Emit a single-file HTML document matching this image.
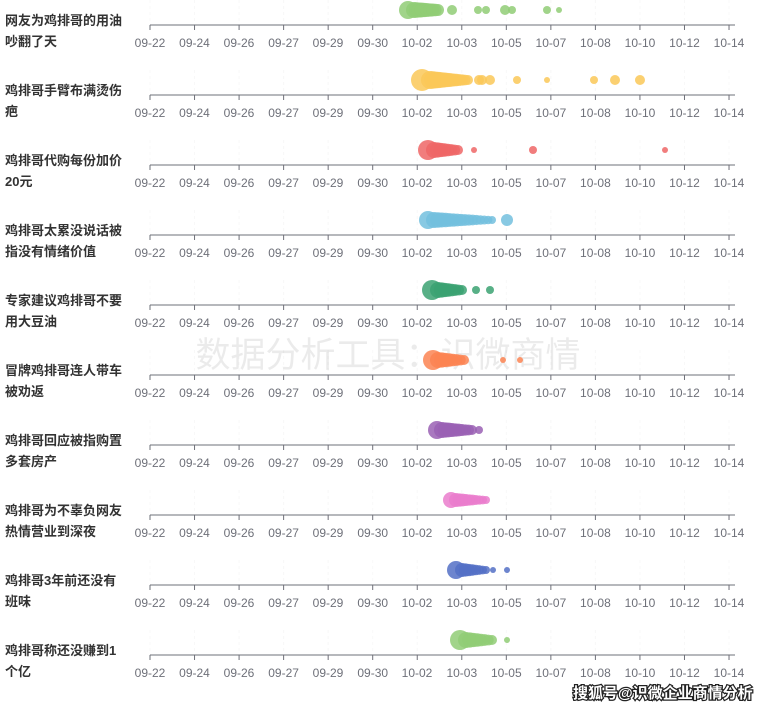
<!DOCTYPE html>
<html><head><meta charset="utf-8"><style>
body{margin:0;background:#fff;width:774px;height:710px;overflow:hidden}
svg text{font-family:"Liberation Sans","Noto Sans CJK SC",sans-serif}
.t{font-size:12px;fill:#6e7079;text-anchor:middle}
.l{font-size:13px;font-weight:bold;fill:#333}
</style></head><body>
<svg width="774" height="710" viewBox="0 0 774 710" xmlns="http://www.w3.org/2000/svg">
<g id="grid"></g>
<text x="388" y="367" font-size="35" fill="#000" fill-opacity="0.08" text-anchor="middle">数据分析工具：识微商情</text>
<g id="bub"></g>
<g class="l">
<text x="5" y="25">网友为鸡排哥的用油</text><text x="5" y="46">吵翻了天</text>
<text x="5" y="95">鸡排哥手臂布满烫伤</text><text x="5" y="116">疤</text>
<text x="5" y="165">鸡排哥代购每份加价</text><text x="5" y="186">20元</text>
<text x="5" y="235">鸡排哥太累没说话被</text><text x="5" y="256">指没有情绪价值</text>
<text x="5" y="305">专家建议鸡排哥不要</text><text x="5" y="326">用大豆油</text>
<text x="5" y="375">冒牌鸡排哥连人带车</text><text x="5" y="396">被劝返</text>
<text x="5" y="445">鸡排哥回应被指购置</text><text x="5" y="466">多套房产</text>
<text x="5" y="515">鸡排哥为不辜负网友</text><text x="5" y="536">热情营业到深夜</text>
<text x="5" y="585">鸡排哥3年前还没有</text><text x="5" y="606">班味</text>
<text x="5" y="655">鸡排哥称还没赚到1</text><text x="5" y="676">个亿</text>
</g>
<g class="t">
<g transform="translate(0,47)"><text x="150">09-22</text><text x="194.5">09-24</text><text x="239">09-26</text><text x="283.6">09-27</text><text x="328">09-29</text><text x="372.7">09-30</text><text x="417">10-02</text><text x="461.8">10-03</text><text x="506.3">10-05</text><text x="550.9">10-07</text><text x="595.4">10-08</text><text x="640">10-10</text><text x="684.5">10-12</text><text x="729">10-14</text></g>
<g transform="translate(0,117)"><text x="150">09-22</text><text x="194.5">09-24</text><text x="239">09-26</text><text x="283.6">09-27</text><text x="328">09-29</text><text x="372.7">09-30</text><text x="417">10-02</text><text x="461.8">10-03</text><text x="506.3">10-05</text><text x="550.9">10-07</text><text x="595.4">10-08</text><text x="640">10-10</text><text x="684.5">10-12</text><text x="729">10-14</text></g>
<g transform="translate(0,187)"><text x="150">09-22</text><text x="194.5">09-24</text><text x="239">09-26</text><text x="283.6">09-27</text><text x="328">09-29</text><text x="372.7">09-30</text><text x="417">10-02</text><text x="461.8">10-03</text><text x="506.3">10-05</text><text x="550.9">10-07</text><text x="595.4">10-08</text><text x="640">10-10</text><text x="684.5">10-12</text><text x="729">10-14</text></g>
<g transform="translate(0,257)"><text x="150">09-22</text><text x="194.5">09-24</text><text x="239">09-26</text><text x="283.6">09-27</text><text x="328">09-29</text><text x="372.7">09-30</text><text x="417">10-02</text><text x="461.8">10-03</text><text x="506.3">10-05</text><text x="550.9">10-07</text><text x="595.4">10-08</text><text x="640">10-10</text><text x="684.5">10-12</text><text x="729">10-14</text></g>
<g transform="translate(0,327)"><text x="150">09-22</text><text x="194.5">09-24</text><text x="239">09-26</text><text x="283.6">09-27</text><text x="328">09-29</text><text x="372.7">09-30</text><text x="417">10-02</text><text x="461.8">10-03</text><text x="506.3">10-05</text><text x="550.9">10-07</text><text x="595.4">10-08</text><text x="640">10-10</text><text x="684.5">10-12</text><text x="729">10-14</text></g>
<g transform="translate(0,397)"><text x="150">09-22</text><text x="194.5">09-24</text><text x="239">09-26</text><text x="283.6">09-27</text><text x="328">09-29</text><text x="372.7">09-30</text><text x="417">10-02</text><text x="461.8">10-03</text><text x="506.3">10-05</text><text x="550.9">10-07</text><text x="595.4">10-08</text><text x="640">10-10</text><text x="684.5">10-12</text><text x="729">10-14</text></g>
<g transform="translate(0,467)"><text x="150">09-22</text><text x="194.5">09-24</text><text x="239">09-26</text><text x="283.6">09-27</text><text x="328">09-29</text><text x="372.7">09-30</text><text x="417">10-02</text><text x="461.8">10-03</text><text x="506.3">10-05</text><text x="550.9">10-07</text><text x="595.4">10-08</text><text x="640">10-10</text><text x="684.5">10-12</text><text x="729">10-14</text></g>
<g transform="translate(0,537)"><text x="150">09-22</text><text x="194.5">09-24</text><text x="239">09-26</text><text x="283.6">09-27</text><text x="328">09-29</text><text x="372.7">09-30</text><text x="417">10-02</text><text x="461.8">10-03</text><text x="506.3">10-05</text><text x="550.9">10-07</text><text x="595.4">10-08</text><text x="640">10-10</text><text x="684.5">10-12</text><text x="729">10-14</text></g>
<g transform="translate(0,607)"><text x="150">09-22</text><text x="194.5">09-24</text><text x="239">09-26</text><text x="283.6">09-27</text><text x="328">09-29</text><text x="372.7">09-30</text><text x="417">10-02</text><text x="461.8">10-03</text><text x="506.3">10-05</text><text x="550.9">10-07</text><text x="595.4">10-08</text><text x="640">10-10</text><text x="684.5">10-12</text><text x="729">10-14</text></g>
<g transform="translate(0,677)"><text x="150">09-22</text><text x="194.5">09-24</text><text x="239">09-26</text><text x="283.6">09-27</text><text x="328">09-29</text><text x="372.7">09-30</text><text x="417">10-02</text><text x="461.8">10-03</text><text x="506.3">10-05</text><text x="550.9">10-07</text><text x="595.4">10-08</text><text x="640">10-10</text><text x="684.5">10-12</text><text x="729">10-14</text></g>
</g>
<text x="573" y="698" font-size="15" font-weight="bold" fill="#fff" stroke="#222" stroke-width="2.5" paint-order="stroke">搜狐号@识微企业商情分析</text>
</svg>
<script>
var g=document.getElementById('grid'),b=document.getElementById('bub'),h='';
for(var r=0;r<10;r++){var y=25+70*r;
for(var i=0;i<14;i++){var x=150+44.54*i;h+='<line x1="'+x+'" x2="'+x+'" y1="'+(y-25)+'" y2="'+y+'" stroke="#f8f8f8" stroke-dasharray="3,3"/>';h+='<line x1="'+x+'" x2="'+x+'" y1="'+y+'" y2="'+(y+5)+'" stroke="#6e7079"/>';}
h+='<line x1="150" x2="735" y1="'+y+'" y2="'+y+'" stroke="#6e7079"/>';}
g.innerHTML=h;
function run(a,b2,r1,r2,n){var o=[];for(var k=0;k<n;k++){var t=k/(n-1);o.push([a+(b2-a)*t,r1+(r2-r1)*t]);}return o;}
var D=[
['#91cc75',[[408,9]].concat(run(414,438,8,6,10),[[452,5],[478,4],[486,4],[505,5],[512,4],[547,4],[559,3]])],
['#fac858',[[422,11]].concat(run(430,468,9,5,14),[[479,5],[482,5],[490,5],[517,4],[547,3],[594,4],[615,5],[640,5]])],
['#ee6666',[[428,10]].concat(run(434,458,8,5,8),[[474,3],[533,4],[665,3]])],
['#73c0de',[[428,9]].concat(run(434,492,8,4,16),[[507,6]])],
['#3ba272',[[432,10]].concat(run(438,462,8,5,8),[[476,4],[490,4]])],
['#fc8452',[[433,10]].concat(run(438,464,8,5,8),[[503,3],[520,3]])],
['#9a60b4',[[437,9]].concat(run(442,472,8,5,10),[[479,4]])],
['#ea7ccc',[[451,8]].concat(run(456,486,7,4,10))],
['#5470c6',[[456,9]].concat(run(462,486,7,4,8),[[493,3],[507,3]])],
['#91cc75',[[460,10]].concat(run(466,492,8,5,8),[[507,3]])]];
h='';D.forEach(function(d,r){var y=10+70*r;d[1].forEach(function(p){h+='<circle cx="'+p[0]+'" cy="'+y+'" r="'+p[1]+'" fill="'+d[0]+'" fill-opacity="0.85"/>';});});
b.innerHTML=h;
</script>
</body></html>
